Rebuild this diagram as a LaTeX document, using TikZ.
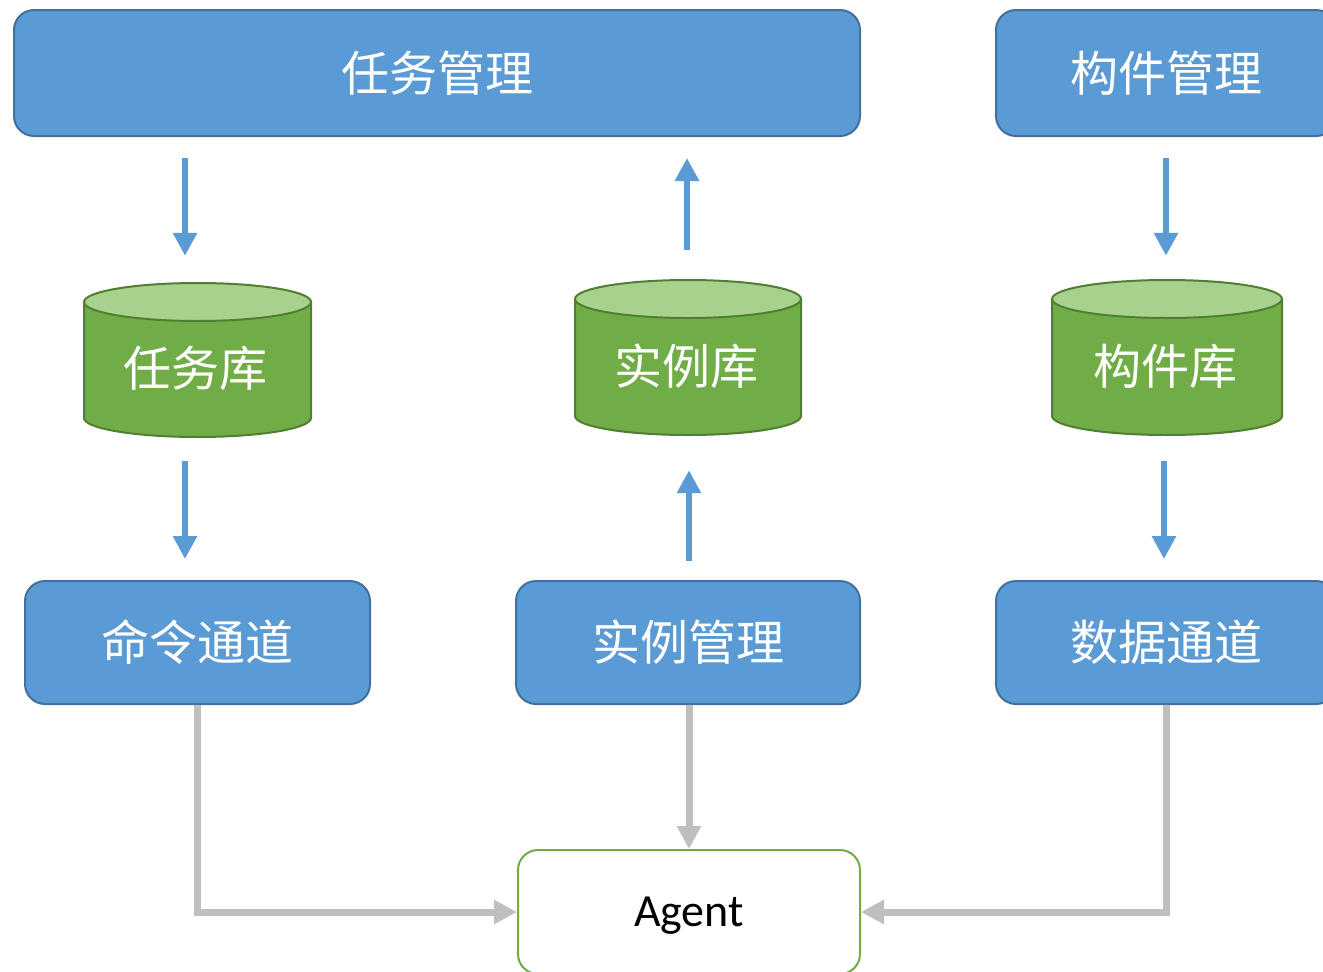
\documentclass[tikz,border=0pt]{standalone}
\usepackage{fontspec}
\setmainfont{Carlito}
\newfontfamily\cjk{Noto Sans CJK SC}
\usetikzlibrary{arrows.meta,calc}
\definecolor{bfill}{HTML}{5B9BD5}
\definecolor{bline}{HTML}{41719C}
\definecolor{gbody}{HTML}{70AD47}
\definecolor{gtop}{HTML}{A9D18E}
\definecolor{gline}{HTML}{507E32}
\definecolor{garr}{HTML}{BFBFBF}
\tikzset{
  bluebox/.style={draw=bline, fill=bfill, line width=2pt, rounded corners=20pt, inner sep=0pt, text=white, font=\cjk\fontsize{48}{52}\selectfont},
  agentbox/.style={draw=gbody, fill=white, line width=2pt, rounded corners=20pt, inner sep=0pt},
  agenttext/.style={text=black, font=\fontsize{46}{50}\selectfont, inner sep=0pt},
  cylframe/.style={inner sep=0pt},
  cyltext/.style={text=white, font=\cjk\fontsize{48}{52}\selectfont, inner sep=0pt},
  barrow/.style={draw=bfill, line width=6pt, -{Triangle[width=23pt,length=23pt]}},
  garrow/.style={draw=garr, line width=7pt, -{Triangle[width=23pt,length=23pt]}},
}
% #1 name, #2 cx, #3 top-ellipse centre y, #4 bottom-ellipse centre y, #5 rx, #6 ry
\newcommand\mycyl[6]{%
  \node[cylframe, minimum width=2*#5pt, minimum height=(#4-#3+2*#6)*1pt] (#1) at (#2,{(#3+#4)/2}) {};
  \fill[gbody] (#2-#5,#3) -- (#2-#5,#4) arc[start angle=180,end angle=360,x radius=#5pt,y radius=#6pt]
     -- (#2+#5,#3) arc[start angle=0,end angle=-180,x radius=#5pt,y radius=#6pt] -- cycle;
  \draw[gline, line width=2pt, fill=gtop] (#2,#3) ellipse[x radius=#5pt, y radius=#6pt];
  \draw[gline, line width=2pt] (#2-#5,#3) -- (#2-#5,#4) arc[start angle=180,end angle=360,x radius=#5pt,y radius=#6pt] -- (#2+#5,#3);
}
\begin{document}
\begin{tikzpicture}[x=1pt,y=-1pt]
\useasboundingbox (0,0) rectangle (1323,972);
\clip (0,0) rectangle (1323,972);
\fill[white] (0,0) rectangle (1323,972);

% blue boxes
\node[bluebox, minimum width=846pt, minimum height=126pt] (tm) at (437,73) {任务管理};
\node[bluebox, minimum width=340pt, minimum height=126pt] (gm) at (1166,73) {构件管理};
\node[bluebox, minimum width=345pt, minimum height=123pt] (cmd) at (197.5,642.5) {命令通道};
\node[bluebox, minimum width=344pt, minimum height=123pt] (inst) at (688,642.5) {实例管理};
\node[bluebox, minimum width=340pt, minimum height=123pt] (data) at (1166,642.5) {数据通道};
\node[agentbox, minimum width=342pt, minimum height=124pt] (agent) at (689,912) {};
\node[agenttext] (agentlbl) at ([yshift=-4pt]agent.center) {Agent};

% cylinders
\mycyl{cA}{197.5}{302}{418}{113.5}{19}
\mycyl{cB}{688}{299}{416}{113}{19}
\mycyl{cC}{1167}{299}{416}{115}{19}
\node[cyltext] (tA) at (195,368) {任务库};
\node[cyltext] (tB) at (686,366) {实例库};
\node[cyltext] (tC) at (1165,366) {构件库};

% x positions of the blue arrows
\coordinate (x1) at (185,0);
\coordinate (x2) at (687,0);
\coordinate (x3) at (689,0);
\coordinate (x4) at (1166,0);
\coordinate (x5) at (1164,0);

\draw[barrow, shorten <=21pt, shorten >=27pt] (tm.south -| x1) -- (cA.north -| x1);
\draw[barrow, shorten <=24pt, shorten >=21pt] (cA.south -| x1) -- (cmd.north -| x1);
\draw[barrow, shorten <=30pt, shorten >=21pt] (cB.north -| x2) -- (tm.south -| x2);
\draw[barrow, shorten <=19pt, shorten >=35pt] (inst.north -| x3) -- (cB.south -| x3);
\draw[barrow, shorten <=21pt, shorten >=24pt] (gm.south -| x4) -- (cC.north -| x4);
\draw[barrow, shorten <=26pt, shorten >=21pt] (cC.south -| x5) -- (data.north -| x5);

% gray arrows to Agent
\draw[garrow] (cmd.south) |- (agent.west);
\draw[garrow] (inst.south -| x3) -- (agent.north -| x3);
\draw[garrow] (data.south) |- (agent.east);
\end{tikzpicture}
\end{document}
